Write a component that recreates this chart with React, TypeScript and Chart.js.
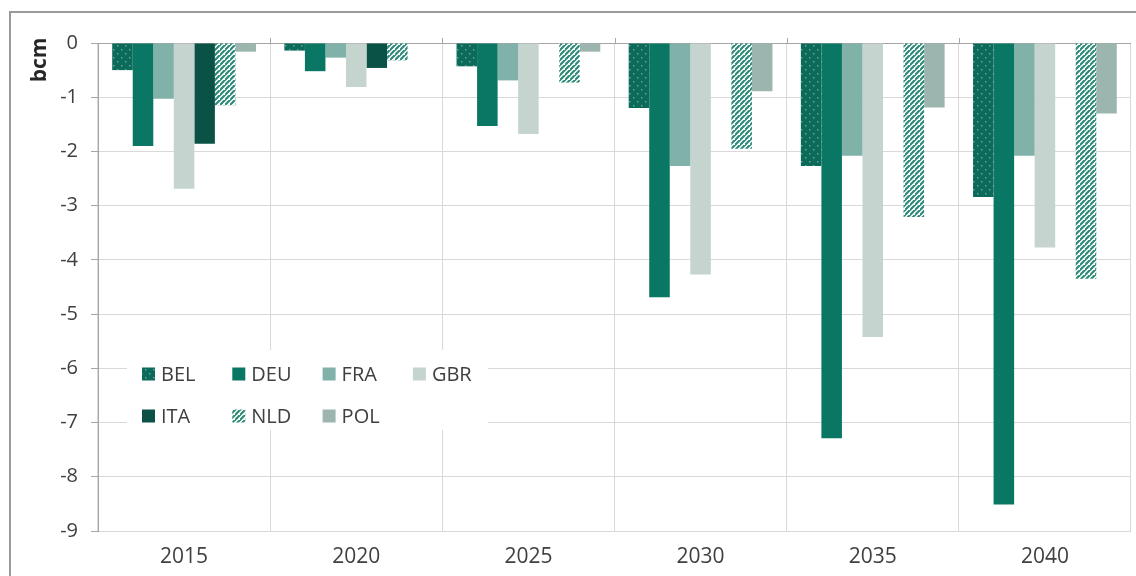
import React, { useEffect, useRef } from "react";
import { Chart, registerables } from "chart.js";

Chart.register(...registerables);

const categories = ["2015", "2020", "2025", "2030", "2035", "2040"];
const seriesNames = ["BEL", "DEU", "FRA", "GBR", "ITA", "NLD", "POL"];
const BEL = [-0.5, -0.14, -0.43, -1.2, -2.27, -2.84];
const DEU = [-1.9, -0.52, -1.53, -4.69, -7.29, -8.51];
const FRA = [-1.03, -0.27, -0.69, -2.27, -2.08, -2.08];
const GBR = [-2.69, -0.81, -1.68, -4.27, -5.42, -3.77];
const ITA = [-1.86, -0.46, 0, 0, 0, 0];
const NLD = [-1.15, -0.32, -0.73, -1.95, -3.21, -4.35];
const POL = [-0.16, 0, -0.16, -0.89, -1.19, -1.3];
const yTickValues = [0, -1, -2, -3, -4, -5, -6, -7, -8, -9];
const yAxisTitle = "bcm";

const FONT = "'Open Sans', 'Liberation Sans', sans-serif";
const TEXT = "#404040";

function dotPattern(): CanvasPattern | string {
  const s = 8;
  const c = document.createElement("canvas");
  c.width = s;
  c.height = s;
  const g = c.getContext("2d");
  if (!g) return "#0d6e5f";
  g.fillStyle = "#0c6a5a";
  g.fillRect(0, 0, s, s);
  g.fillStyle = "#5ea897";
  g.fillRect(1, 1, 1.5, 1.5);
  g.fillRect(5, 5, 1.5, 1.5);
  return g.createPattern(c, "repeat") || "#0d6e5f";
}

function stripePattern(): CanvasPattern | string {
  const s = 5;
  const c = document.createElement("canvas");
  c.width = s;
  c.height = s;
  const g = c.getContext("2d");
  if (!g) return "#3a8f80";
  g.fillStyle = "#ffffff";
  g.fillRect(0, 0, s, s);
  g.strokeStyle = "#2f8a79";
  g.lineWidth = 2.2;
  g.beginPath();
  g.moveTo(-1, s + 1);
  g.lineTo(s + 1, -1);
  g.moveTo(-1 - s, s + 1);
  g.lineTo(1, -1);
  g.moveTo(s - 1, 2 * s + 1);
  g.lineTo(2 * s + 1, s - 1);
  g.stroke();
  return g.createPattern(c, "repeat") || "#3a8f80";
}

export default function App() {
  const ref = useRef<HTMLCanvasElement | null>(null);

  useEffect(() => {
    document.body.style.margin = "0";
    const canvas = ref.current;
    if (!canvas) return;
    const dots = dotPattern();
    const stripes = stripePattern();
    const seriesValues = [BEL, DEU, FRA, GBR, ITA, NLD, POL];
    const fills: (string | CanvasPattern)[] = [
      dots,
      "#0a7764",
      "#80b2a9",
      "#c6d4d0",
      "#0a5246",
      stripes,
      "#9cb6af",
    ];

    const framePlugin = {
      id: "frame",
      afterDraw(chart: any) {
        const ctx = chart.ctx as CanvasRenderingContext2D;
        const area = chart.chartArea;
        const y = chart.scales.y;
        ctx.save();
        ctx.strokeStyle = "#9a9a9a";
        ctx.lineWidth = 2;
        ctx.beginPath();
        ctx.moveTo(10, 576);
        ctx.lineTo(10, 12);
        ctx.lineTo(1136, 12);
        ctx.stroke();

        const y0 = y.getPixelForValue(0);
        ctx.strokeStyle = "#a6a6a6";
        ctx.lineWidth = 1;
        ctx.beginPath();
        const n = categories.length;
        const step = (area.right - area.left) / n;
        for (let i = 1; i < n; i++) {
          const px = Math.round(area.left + i * step) + 0.5;
          ctx.moveTo(px, y0 - 5);
          ctx.lineTo(px, y0);
        }
        ctx.stroke();

        ctx.fillStyle = "#262626";
        ctx.font = `bold 21px ${FONT}`;
        ctx.translate(40, 60);
        ctx.rotate(-Math.PI / 2);
        ctx.textAlign = "center";
        ctx.textBaseline = "middle";
        ctx.fillText(yAxisTitle, 0, 0);
        ctx.restore();

        ctx.save();
        ctx.fillStyle = "#ffffff";
        ctx.fillRect(127, 350, 361, 80);
        ctx.font = `20px ${FONT}`;
        ctx.textBaseline = "middle";
        ctx.textAlign = "left";
        const cols = 4;
        for (let i = 0; i < seriesNames.length; i++) {
          const col = i % cols;
          const row = Math.floor(i / cols);
          const mx = 142 + col * 90.3;
          const my = 374 + row * 42;
          ctx.fillStyle = fills[i] as any;
          ctx.fillRect(mx, my - 6.5, 13, 13);
          ctx.fillStyle = TEXT;
          ctx.fillText(seriesNames[i], mx + 19, my + 1);
        }
        ctx.restore();
      },
    };

    const chart = new Chart(canvas, {
      type: "bar",
      data: {
        labels: categories,
        datasets: seriesNames.map((name, i) => ({
          label: name,
          data: seriesValues[i],
          backgroundColor: fills[i] as any,
          borderWidth: 0,
          categoryPercentage: 0.835,
          barPercentage: 1.0,
        })),
      },
      options: {
        responsive: false,
        animation: false,
        devicePixelRatio: 1,
        layout: { padding: { left: 0, right: 5, top: 43, bottom: 0 } },
        plugins: {
          legend: { display: false },
          tooltip: { enabled: false },
          title: { display: false },
        },
        scales: {
          x: {
            position: "bottom",
            grid: {
              offset: true,
              color: "#d9d9d9",
              lineWidth: 1,
              drawTicks: false,
            },
            border: { display: false },
            ticks: {
              color: TEXT,
              font: { family: FONT, size: 21 },
              padding: 13,
              maxRotation: 0,
            },
            afterFit(scale: any) {
              scale.height = 45;
            },
          },
          y: {
            min: -9,
            max: 0,
            afterBuildTicks(scale: any) {
              scale.ticks = yTickValues.map((v) => ({ value: v }));
            },
            grid: {
              color: (c: any) => (c.tick && c.tick.value === 0 ? "#a6a6a6" : "#d9d9d9"),
              lineWidth: 1,
              drawTicks: true,
              tickLength: 7,
              tickColor: "#a6a6a6",
            },
            border: { display: true, color: "#a6a6a6", width: 1 },
            ticks: {
              color: TEXT,
              font: { family: FONT, size: 20 },
              padding: 13,
              callback: (v: any) => String(v),
            },
            afterFit(scale: any) {
              scale.width = 98;
            },
          },
        },
      },
      plugins: [framePlugin],
    });
    return () => chart.destroy();
  }, []);

  return (
    <div style={{ position: "fixed", left: 0, top: 0, width: 1136, height: 576, background: "#fff", overflow: "hidden" }}>
      <canvas ref={ref} width={1136} height={576} style={{ display: "block", width: 1136, height: 576 }} />
    </div>
  );
}
